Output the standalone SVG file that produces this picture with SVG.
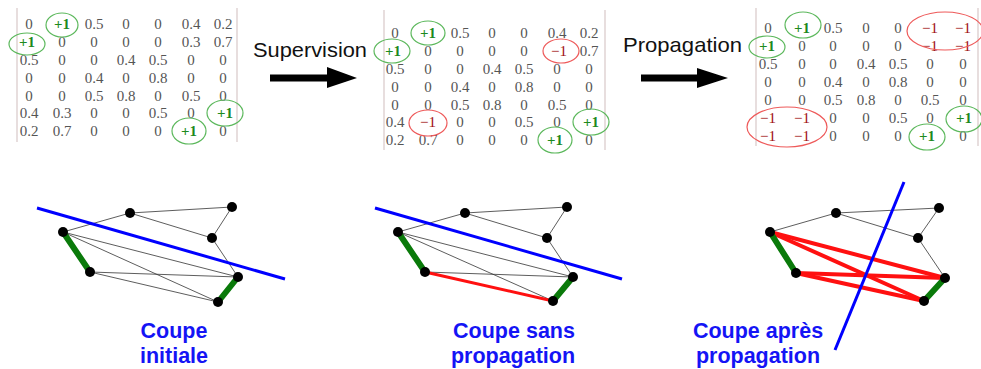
<svg xmlns="http://www.w3.org/2000/svg" width="981" height="369" viewBox="0 0 981 369">
<style>
.m{font-family:"Liberation Serif",serif;font-size:15px;fill:#555;text-anchor:middle}
.p{fill:#1e8a1e;font-weight:bold}
.n{fill:#a01010}
.ge{fill:none;stroke:#5cb85c;stroke-width:1.2}
.re{fill:none;stroke:#ee5a5a;stroke-width:1.2}
.br{stroke:#d8c8c8;stroke-width:1.2}
.lbl{font-family:"Liberation Sans",Arial,sans-serif;font-size:21.5px;font-weight:bold;fill:#1414f5;text-anchor:middle}
.op{font-family:"Liberation Sans",Arial,sans-serif;font-size:21px;fill:#111}
.e{stroke:#333;stroke-width:0.8;fill:none}
.g{stroke:#0a7a0a;stroke-width:6;stroke-linecap:round}
.r{stroke:#ff1010;stroke-width:4;stroke-linecap:round}
.b{stroke:#0000ff;stroke-width:3}
.nd{fill:#000}
</style>

<g id="matrix1">
<line class="br" x1="17" y1="8" x2="17" y2="142"/>
<line class="br" x1="237" y1="8" x2="237" y2="142"/>
<g class="m">
<text x="29" y="29">0</text><text x="62" y="29" class="p">+1</text><text x="94" y="29">0.5</text><text x="126" y="29">0</text><text x="158" y="29">0</text><text x="191" y="29">0.4</text><text x="223" y="29">0.2</text>
<text x="27" y="47" class="p">+1</text><text x="62" y="47">0</text><text x="94" y="47">0</text><text x="126" y="47">0</text><text x="158" y="47">0</text><text x="191" y="47">0.3</text><text x="223" y="47">0.7</text>
<text x="29" y="65">0.5</text><text x="62" y="65">0</text><text x="94" y="65">0</text><text x="126" y="65">0.4</text><text x="158" y="65">0.5</text><text x="191" y="65">0</text><text x="223" y="65">0</text>
<text x="29" y="83">0</text><text x="62" y="83">0</text><text x="94" y="83">0.4</text><text x="126" y="83">0</text><text x="158" y="83">0.8</text><text x="191" y="83">0</text><text x="223" y="83">0</text>
<text x="29" y="101">0</text><text x="62" y="101">0</text><text x="94" y="101">0.5</text><text x="126" y="101">0.8</text><text x="158" y="101">0</text><text x="191" y="101">0.5</text><text x="223" y="101">0</text>
<text x="29" y="118">0.4</text><text x="62" y="118">0.3</text><text x="94" y="118">0</text><text x="126" y="118">0</text><text x="158" y="118">0.5</text><text x="191" y="118">0</text><text x="225" y="118" class="p">+1</text>
<text x="29" y="136">0.2</text><text x="62" y="136">0.7</text><text x="94" y="136">0</text><text x="126" y="136">0</text><text x="158" y="136">0</text><text x="189" y="136" class="p">+1</text><text x="223" y="136">0</text>
</g>
<ellipse class="ge" cx="62" cy="25" rx="16" ry="12"/>
<ellipse class="ge" cx="27" cy="44" rx="18" ry="11"/>
<ellipse class="ge" cx="225" cy="113" rx="18" ry="13"/>
<ellipse class="ge" cx="189" cy="131" rx="17" ry="13"/>
</g>

<g id="matrix2" transform="translate(366,9)">
<line class="br" x1="18" y1="1" x2="18" y2="141"/>
<line class="br" x1="239" y1="1" x2="239" y2="141"/>
<g class="m">
<text x="29" y="29">0</text><text x="62" y="29" class="p">+1</text><text x="94" y="29">0.5</text><text x="126" y="29">0</text><text x="158" y="29">0</text><text x="191" y="29">0.4</text><text x="223" y="29">0.2</text>
<text x="27" y="47" class="p">+1</text><text x="62" y="47">0</text><text x="94" y="47">0</text><text x="126" y="47">0</text><text x="158" y="47">0</text><text x="193" y="47" class="n">−1</text><text x="223" y="47">0.7</text>
<text x="29" y="65">0.5</text><text x="62" y="65">0</text><text x="94" y="65">0</text><text x="126" y="65">0.4</text><text x="158" y="65">0.5</text><text x="191" y="65">0</text><text x="223" y="65">0</text>
<text x="29" y="83">0</text><text x="62" y="83">0</text><text x="94" y="83">0.4</text><text x="126" y="83">0</text><text x="158" y="83">0.8</text><text x="191" y="83">0</text><text x="223" y="83">0</text>
<text x="29" y="101">0</text><text x="62" y="101">0</text><text x="94" y="101">0.5</text><text x="126" y="101">0.8</text><text x="158" y="101">0</text><text x="191" y="101">0.5</text><text x="223" y="101">0</text>
<text x="29" y="118">0.4</text><text x="62" y="118" class="n">−1</text><text x="94" y="118">0</text><text x="126" y="118">0</text><text x="158" y="118">0.5</text><text x="191" y="118">0</text><text x="225" y="118" class="p">+1</text>
<text x="29" y="136">0.2</text><text x="62" y="136">0.7</text><text x="94" y="136">0</text><text x="126" y="136">0</text><text x="158" y="136">0</text><text x="189" y="136" class="p">+1</text><text x="223" y="136">0</text>
</g>
<ellipse class="ge" cx="62" cy="24" rx="17" ry="12"/>
<ellipse class="ge" cx="26" cy="42" rx="18" ry="12"/>
<ellipse class="ge" cx="225" cy="113" rx="18" ry="13"/>
<ellipse class="ge" cx="189" cy="131" rx="17" ry="13"/>
<ellipse class="re" cx="195" cy="42" rx="18" ry="12"/>
<ellipse class="re" cx="62" cy="114" rx="19" ry="13"/>
</g>

<g id="matrix3" transform="translate(739,4)">
<line class="br" x1="17" y1="4" x2="17" y2="142"/>
<line class="br" x1="239" y1="4" x2="239" y2="142"/>
<g class="m">
<text x="29" y="29">0</text><text x="63" y="29" class="p">+1</text><text x="94" y="29">0.5</text><text x="127" y="29">0</text><text x="159" y="29">0</text><text x="191" y="29" class="n">−1</text><text x="224" y="29" class="n">−1</text>
<text x="28" y="47" class="p">+1</text><text x="63" y="47">0</text><text x="94" y="47">0</text><text x="127" y="47">0</text><text x="159" y="47">0</text><text x="191" y="47" class="n">−1</text><text x="224" y="47" class="n">−1</text>
<text x="29" y="65">0.5</text><text x="63" y="65">0</text><text x="94" y="65">0</text><text x="127" y="65">0.4</text><text x="159" y="65">0.5</text><text x="191" y="65">0</text><text x="224" y="65">0</text>
<text x="29" y="83">0</text><text x="63" y="83">0</text><text x="94" y="83">0.4</text><text x="127" y="83">0</text><text x="159" y="83">0.8</text><text x="191" y="83">0</text><text x="224" y="83">0</text>
<text x="29" y="101">0</text><text x="63" y="101">0</text><text x="94" y="101">0.5</text><text x="127" y="101">0.8</text><text x="159" y="101">0</text><text x="191" y="101">0.5</text><text x="224" y="101">0</text>
<text x="29" y="119" class="n">−1</text><text x="63" y="119" class="n">−1</text><text x="94" y="119">0</text><text x="127" y="119">0</text><text x="159" y="119">0.5</text><text x="191" y="119">0</text><text x="225" y="119" class="p">+1</text>
<text x="29" y="137" class="n">−1</text><text x="63" y="137" class="n">−1</text><text x="94" y="137">0</text><text x="127" y="137">0</text><text x="159" y="137">0</text><text x="188" y="137" class="p">+1</text><text x="224" y="137">0</text>
</g>
<ellipse class="ge" cx="64" cy="21" rx="18" ry="13"/>
<ellipse class="ge" cx="28" cy="43" rx="18" ry="11"/>
<ellipse class="ge" cx="225" cy="115" rx="18" ry="13"/>
<ellipse class="ge" cx="188" cy="133" rx="18" ry="13"/>
<ellipse class="re" cx="206" cy="27" rx="38" ry="19"/>
<ellipse class="re" cx="48" cy="123" rx="40" ry="20"/>
</g>

<g id="op-supervision">
<text class="op" x="253" y="57" textLength="114" lengthAdjust="spacingAndGlyphs">Supervision</text>
<polygon points="270,74.5 327,74.5 327,67 357,78 327,88 327,81.5 270,81.5" fill="#000"/>
</g>
<g id="op-propagation">
<text class="op" x="623" y="52" textLength="119" lengthAdjust="spacingAndGlyphs">Propagation</text>
<polygon points="641,74.5 697,74.5 697,68 728,78 697,88 697,81.5 641,81.5" fill="#000"/>
</g>

<g id="connectors">
<g id="edges1">
<line class="e" x1="63" y1="232" x2="130" y2="213"/>
<line class="e" x1="130" y1="213" x2="232" y2="207"/>
<line class="e" x1="130" y1="213" x2="212" y2="238"/>
<line class="e" x1="232" y1="207" x2="212" y2="238"/>
<line class="e" x1="212" y1="238" x2="238" y2="277"/>
<line class="e" x1="63" y1="232" x2="238" y2="277"/>
<line class="e" x1="63" y1="232" x2="218" y2="302"/>
<line class="e" x1="90" y1="272" x2="238" y2="277"/>
<line class="e" x1="90" y1="272" x2="218" y2="302"/>
<line class="g" x1="63" y1="232" x2="90" y2="272"/>
<line class="g" x1="238" y1="277" x2="218" y2="302"/>
<line class="b" x1="37" y1="208" x2="285" y2="279"/>
</g>
<g id="edges2">
<line class="e" x1="398" y1="232" x2="465" y2="213"/>
<line class="e" x1="465" y1="213" x2="567" y2="207"/>
<line class="e" x1="465" y1="213" x2="547" y2="238"/>
<line class="e" x1="567" y1="207" x2="547" y2="238"/>
<line class="e" x1="547" y1="238" x2="573" y2="277"/>
<line class="e" x1="398" y1="232" x2="573" y2="277"/>
<line class="e" x1="398" y1="232" x2="553" y2="301"/>
<line class="e" x1="425" y1="272" x2="573" y2="277"/>
<line class="r" style="stroke-width:3" x1="425" y1="272" x2="553" y2="301"/>
<line class="g" x1="398" y1="232" x2="425" y2="272"/>
<line class="g" x1="573" y1="277" x2="553" y2="301"/>
<line class="b" x1="375" y1="208" x2="622" y2="279"/>
</g>
<g id="edges3">
<line class="e" x1="770" y1="232" x2="836" y2="213"/>
<line class="e" x1="836" y1="213" x2="939" y2="208"/>
<line class="e" x1="836" y1="213" x2="918" y2="238"/>
<line class="e" x1="939" y1="208" x2="918" y2="238"/>
<line class="e" x1="918" y1="238" x2="945" y2="278"/>
<line class="r" x1="770" y1="232" x2="945" y2="278"/>
<line class="r" x1="770" y1="232" x2="924" y2="301"/>
<line class="r" x1="796" y1="273" x2="945" y2="278"/>
<line class="r" x1="796" y1="273" x2="924" y2="301"/>
<line class="g" x1="770" y1="232" x2="796" y2="273"/>
<line class="g" x1="945" y1="278" x2="924" y2="301"/>
<line class="b" x1="904" y1="182" x2="835" y2="350"/>
</g>
</g>

<g id="nodes1" class="nd">
<circle id="g1a" cx="63" cy="232" r="5"/><circle id="g1b" cx="130" cy="213" r="5"/><circle id="g1c" cx="232" cy="207" r="5"/><circle id="g1d" cx="212" cy="238" r="5"/><circle id="g1e" cx="90" cy="272" r="5"/><circle id="g1f" cx="238" cy="277" r="5"/><circle id="g1g" cx="218" cy="302" r="5"/>
</g>
<g id="nodes2" class="nd">
<circle id="g2a" cx="398" cy="232" r="5"/><circle id="g2b" cx="465" cy="213" r="5"/><circle id="g2c" cx="567" cy="207" r="5"/><circle id="g2d" cx="547" cy="238" r="5"/><circle id="g2e" cx="425" cy="272" r="5"/><circle id="g2f" cx="573" cy="277" r="5"/><circle id="g2g" cx="553" cy="301" r="5"/>
</g>
<g id="nodes3" class="nd">
<circle id="g3a" cx="770" cy="232" r="5"/><circle id="g3b" cx="836" cy="213" r="5"/><circle id="g3c" cx="939" cy="208" r="5"/><circle id="g3d" cx="918" cy="238" r="5"/><circle id="g3e" cx="796" cy="273" r="5"/><circle id="g3f" cx="945" cy="278" r="5"/><circle id="g3g" cx="924" cy="301" r="5"/>
</g>

<g id="label1"><text class="lbl" x="174" y="338">Coupe</text><text class="lbl" x="174" y="363">initiale</text></g>
<g id="label2"><text class="lbl" x="514" y="338">Coupe sans</text><text class="lbl" x="513" y="363">propagation</text></g>
<g id="label3"><text class="lbl" x="758" y="338">Coupe après</text><text class="lbl" x="758" y="363">propagation</text></g>
</svg>
